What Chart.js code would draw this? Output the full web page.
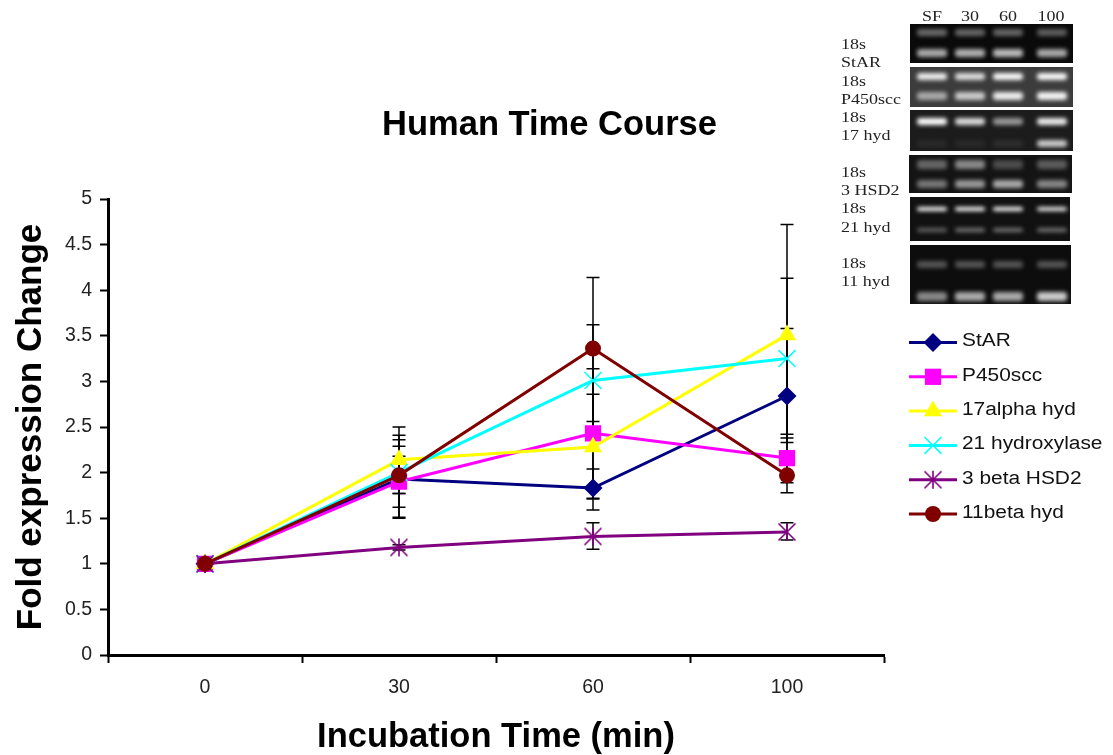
<!DOCTYPE html>
<html>
<head>
<meta charset="utf-8">
<title>Human Time Course</title>
<script src="https://cdn.jsdelivr.net/npm/chart.js@4/dist/chart.umd.min.js"></script>
<style>
    html, body { margin: 0; padding: 0; background: #fff; }
    #wrap { position: relative; width: 1113px; height: 755px; overflow: hidden; }
    canvas { display: block; }
    .panel { position: absolute; overflow: hidden; filter: blur(0.5px); }
    .band { position: absolute; filter: blur(2px); border-radius: 3px; }
    .gelText {
        position: absolute;
        font: 15px "Liberation Serif", serif;
        color: #222;
        line-height: 15px;
        white-space: nowrap;
        filter: blur(0.3px);
        transform: scaleX(1.2);
        transform-origin: left center;
    }
    .laneText { transform-origin: center center; text-align: center; width: 40px; }
</style>
</head>
<body>
<div id="wrap">
    <canvas id="chart" width="1113" height="755"></canvas>
</div>
<script>
const categories = ["0", "30", "60", "100"];
const yTicks = [0, 0.5, 1, 1.5, 2, 2.5, 3, 3.5, 4, 4.5, 5];

const starValues = [1, 1.93, 1.83, 2.84];
const p450Values = [1, 1.90, 2.43, 2.16];
const alphaValues = [1, 2.14, 2.28, 3.51];
const hydroxylaseValues = [1, 2.00, 3.01, 3.25];
const betaHsdValues = [1, 1.18, 1.30, 1.35];
const betaHydValues = [1, 1.97, 3.36, 1.97];

// error bar ends
const starHigh = [null, 2.36, 2.04, 3.58];
const starLow = [null, 1.50, 1.59, 2.14];
const p450High = [null, 2.29, 3.14, 2.42];
const p450Low = [null, 1.51, 1.71, 1.89];
const alphaHigh = [null, 2.50, 2.86, 4.72];
const alphaLow = [null, 1.77, 1.72, 2.33];
const hydroxylaseHigh = [null, 2.41, 3.62, 4.13];
const hydroxylaseLow = [null, 1.62, 2.40, 2.38];
const betaHsdHigh = [null, 1.21, 1.45, 1.45];
const betaHsdLow = [null, 1.15, 1.16, 1.26];
const betaHydHigh = [null, 2.18, 4.14, 2.17];
const betaHydLow = [null, 1.77, 2.56, 1.78];

// six armed asterisk, the built in "star" also has a horizontal arm
function asteriskMark(color) {
    const c = document.createElement("canvas");
    c.width = 20;
    c.height = 20;
    const g = c.getContext("2d");
    g.strokeStyle = color;
    g.lineWidth = 1.6;
    g.beginPath();
    g.moveTo(10, 1);
    g.lineTo(10, 19);
    g.moveTo(1.5, 1.5);
    g.lineTo(18.5, 18.5);
    g.moveTo(18.5, 1.5);
    g.lineTo(1.5, 18.5);
    g.stroke();
    return c;
}

function series(label, values, high, low, color, style, radius, order) {
    return {
        label: label,
        data: values,
        errHigh: high,
        errLow: low,
        borderColor: color,
        backgroundColor: color,
        borderWidth: 3,
        pointStyle: style,
        pointRadius: radius,
        pointHoverRadius: radius,
        pointBorderColor: color,
        pointBackgroundColor: color,
        pointBorderWidth: style === "crossRot" ? 1.5 : 0,
        tension: 0,
        order: order
    };
}

const datasets = [
    series("StAR", starValues, starHigh, starLow, "#000080", "rectRot", 9.5, 6),
    series("P450scc", p450Values, p450High, p450Low, "#FF00FF", "rect", 11.5, 5),
    series("17alpha hyd", alphaValues, alphaHigh, alphaLow, "#FFFF00", "triangle", 10.5, 4),
    series("21 hydroxylase", hydroxylaseValues, hydroxylaseHigh, hydroxylaseLow, "#00FFFF", "crossRot", 12, 3),
    series("3 beta HSD2", betaHsdValues, betaHsdHigh, betaHsdLow, "#800080", asteriskMark("#800080"), 10, 2),
    series("11beta hyd", betaHydValues, betaHydHigh, betaHydLow, "#800000", "circle", 8, 1)
];

const errorBars = {
    id: "errorBars",
    beforeDatasetsDraw(chart) {
        const ctx = chart.ctx;
        const x = chart.scales.x;
        const y = chart.scales.y;
        ctx.save();
        ctx.strokeStyle = "#000";
        ctx.lineWidth = 1.5;
        chart.data.datasets.forEach(ds => {
            ds.errHigh.forEach((high, i) => {
                if (high === null) return;
                const px = x.getPixelForValue(i);
                const top = y.getPixelForValue(high);
                const bottom = y.getPixelForValue(ds.errLow[i]);
                ctx.beginPath();
                ctx.moveTo(px, top);
                ctx.lineTo(px, bottom);
                ctx.moveTo(px - 6.5, top);
                ctx.lineTo(px + 6.5, top);
                ctx.moveTo(px - 6.5, bottom);
                ctx.lineTo(px + 6.5, bottom);
                ctx.stroke();
            });
        });
        ctx.restore();
    }
};

// title sits right of the plot centre and the legend is line + marker, so both are drawn here
const sideText = {
    id: "sideText",
    afterDraw(chart) {
        const ctx = chart.ctx;
        ctx.save();
        ctx.fillStyle = "#000";
        ctx.textAlign = "center";
        ctx.textBaseline = "alphabetic";
        ctx.font = 'bold 34.5px "Liberation Sans", Arial, sans-serif';
        ctx.fillText("Human Time Course", 549.5, 135);

        ctx.textAlign = "left";
        ctx.textBaseline = "middle";
        ctx.font = '18px "Liberation Sans", Arial, sans-serif';
        chart.data.datasets.forEach((ds, i) => {
            const rowY = 342.5 + i * 34.3;
            ctx.strokeStyle = ds.borderColor;
            ctx.fillStyle = ds.backgroundColor;
            ctx.lineWidth = 3;
            ctx.beginPath();
            ctx.moveTo(909, rowY);
            ctx.lineTo(957, rowY);
            ctx.stroke();
            ctx.lineWidth = ds.pointBorderWidth;
            Chart.helpers.drawPoint(ctx, {
                pointStyle: ds.pointStyle,
                radius: ds.pointRadius,
                borderWidth: ds.pointBorderWidth
            }, 933, rowY);
            ctx.fillStyle = "#111";
            // reference text is stretched sideways
            ctx.save();
            ctx.translate(962, rowY - 1);
            ctx.scale(1.16, 1);
            ctx.fillText(ds.label, 0, 0);
            ctx.restore();
        });
        ctx.restore();
    }
};

new Chart(document.getElementById("chart"), {
    type: "line",
    data: { labels: categories, datasets: datasets },
    plugins: [errorBars, sideText],
    options: {
        responsive: false,
        animation: false,
        devicePixelRatio: 1,
        layout: { padding: { left: 0, top: 199, right: 229, bottom: 0 } },
        plugins: {
            legend: { display: false },
            title: { display: false },
            tooltip: { enabled: false }
        },
        scales: {
            x: {
                offset: true,
                afterFit(scale) { scale.height = 100; },
                grid: {
                    offset: true,
                    drawOnChartArea: false,
                    drawTicks: true,
                    tickLength: 8,
                    tickWidth: 2,
                    tickColor: "#000"
                },
                border: { color: "#000", width: 3 },
                ticks: {
                    color: "#222",
                    padding: 13,
                    maxRotation: 0,
                    font: { family: '"Liberation Sans", Arial', size: 19.5 }
                },
                title: {
                    display: true,
                    text: "Incubation Time (min)",
                    color: "#000",
                    padding: { top: 16, bottom: 0 },
                    font: { family: '"Liberation Sans", Arial', size: 34.5, weight: "bold", lineHeight: 1 }
                }
            },
            y: {
                min: 0,
                max: 5,
                afterFit(scale) { scale.width = 108; },
                afterBuildTicks(scale) { scale.ticks = yTicks.map(v => ({ value: v })); },
                grid: {
                    drawOnChartArea: false,
                    drawTicks: true,
                    tickLength: 8,
                    tickWidth: 2,
                    tickColor: "#000"
                },
                border: { color: "#000", width: 3 },
                ticks: {
                    color: "#222",
                    padding: 8,
                    font: { family: '"Liberation Sans", Arial', size: 19.5 },
                    callback: v => String(v)
                },
                title: {
                    display: true,
                    text: "Fold expression Change",
                    color: "#000",
                    padding: { top: 10, bottom: 0 },
                    font: { family: '"Liberation Sans", Arial', size: 35, weight: "bold" }
                }
            }
        }
    }
});

// gel photo inset, not part of the chart data
const laneX = [932, 970, 1008, 1052];
const gelPanels = [
    { x: 910, y: 24, w: 163, h: 39, bg: "#0a0a0a", rows: [[8, 7, ["#6a6a6a", "#666", "#666", "#5e5e5e"]], [29, 8, ["#aaa", "#b0b0b0", "#bbb", "#aaa"]]] },
    { x: 910, y: 67, w: 163, h: 40, bg: "#3c3c3c", rows: [[9, 7, ["#eee", "#ddd", "#fafafa", "#fafafa"]], [29, 8, ["#aaa", "#ccc", "#eee", "#f5f5f5"]]] },
    { x: 910, y: 110, w: 163, h: 41, bg: "#1c1c1c", rows: [[11, 7, ["#fff", "#ddd", "#999", "#eee"]], [33, 7, ["#2a2a2a", "#2a2a2a", "#2e2e2e", "#ccc"]]] },
    { x: 909, y: 155, w: 163, h: 38, bg: "#141414", rows: [[9, 9, ["#666", "#888", "#4c4c4c", "#5c5c5c"]], [29, 8, ["#777", "#999", "#aaa", "#888"]]] },
    { x: 910, y: 197, w: 160, h: 44, bg: "#111", rows: [[12, 4, ["#fff", "#fff", "#fff", "#eee"]], [33, 4, ["#666", "#777", "#777", "#777"]]] },
    { x: 910, y: 245, w: 161, h: 59, bg: "#0d0d0d", rows: [[19, 7, ["#555", "#555", "#555", "#555"]], [51, 9, ["#888", "#aaa", "#aaa", "#ccc"]]] }
];
const laneLabels = ["SF", "30", "60", "100"];
const laneLabelX = [932, 970, 1008, 1051];
const gelLabels = [
    ["18s", 44], ["StAR", 62], ["18s", 81], ["P450scc", 99], ["18s", 117], ["17 hyd", 135],
    ["18s", 172], ["3 HSD2", 190], ["18s", 208], ["21 hyd", 227], ["18s", 263], ["11 hyd", 281]
];

const wrap = document.getElementById("wrap");

gelPanels.forEach(p => {
    const panel = document.createElement("div");
    panel.className = "panel";
    panel.style.cssText = `left:${p.x}px;top:${p.y}px;width:${p.w}px;height:${p.h}px;background:${p.bg}`;
    p.rows.forEach(row => {
        row[2].forEach((color, lane) => {
            const band = document.createElement("div");
            band.className = "band";
            band.style.cssText = `left:${laneX[lane] - 15 - p.x}px;top:${row[0] - row[1] / 2}px;width:30px;height:${row[1]}px;background:${color}`;
            panel.appendChild(band);
        });
    });
    wrap.appendChild(panel);
});

laneLabels.forEach((text, i) => {
    const el = document.createElement("div");
    el.className = "gelText laneText";
    el.textContent = text;
    el.style.left = (laneLabelX[i] - 20) + "px";
    el.style.top = "9px";
    wrap.appendChild(el);
});

gelLabels.forEach(item => {
    const el = document.createElement("div");
    el.className = "gelText";
    el.textContent = item[0];
    el.style.left = "841px";
    el.style.top = (item[1] - 7) + "px";
    wrap.appendChild(el);
});
</script>
</body>
</html>
